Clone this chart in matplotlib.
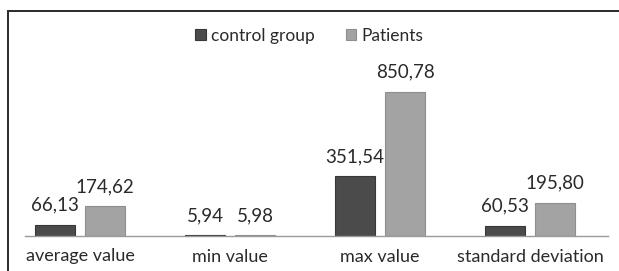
import matplotlib
matplotlib.use("Agg")
import matplotlib.pyplot as plt
from matplotlib.patches import Rectangle
import numpy as np

categories = ["average value", "min value", "max value", "standard deviation"]
control = [66.13, 5.94, 351.54, 60.53]
patients = [174.62, 5.98, 850.78, 195.80]
series_names = ["control group", "Patients"]

plt.rcParams['font.family'] = ['Lato', 'DejaVu Sans']

W, H = 619, 271
fig = plt.figure(figsize=(W / 100, H / 100), dpi=100)

# frame
fig.patches.append(Rectangle((8 / W, -0.1), 1.2, (H - 11) / H + 0.1, transform=fig.transFigure,
                             fill=False, edgecolor="#2a2a2a", linewidth=1.4))

ax_left, ax_right, ax_bottom, ax_top = 25, 608, 35, 260
ax = fig.add_axes([ax_left / W, ax_bottom / H, (ax_right - ax_left) / W, (ax_top - ax_bottom) / H])

x = np.arange(len(categories))
bw = 0.267
off = 0.167
b1 = ax.bar(x - off, control, bw, color="#4b4b4b", edgecolor="#383838", linewidth=0.8,
            label=series_names[0])
b2 = ax.bar(x + off, patients, bw, color="#a3a3a3", edgecolor="#8f8f8f", linewidth=0.8,
            label=series_names[1])

def fmt(v):
    return f"{v:.2f}".replace(".", ",")

for bars, vals in ((b1, control), (b2, patients)):
    for r, v in zip(bars, vals):
        ax.annotate(fmt(v), (r.get_x() + r.get_width() / 2, r.get_height()),
                    xytext=(0, 8), textcoords="offset points", ha="center", va="bottom",
                    fontsize=13.5, color="#2a2a2a")

ax.set_xlim((ax_left - 80) / 150, (ax_right - 80) / 150)
ax.set_ylim(0, (ax_top - ax_bottom) / 0.1693)
ax.set_xticks(x)
ax.set_xticklabels(categories, fontsize=13, color="#2a2a2a")
ax.tick_params(axis="x", length=0, pad=9)
ax.set_yticks([])
for s in ["top", "right", "left"]:
    ax.spines[s].set_visible(False)
ax.spines["bottom"].set_color("#9a9a9a")
ax.spines["bottom"].set_linewidth(1.0)
ax.patch.set_visible(False)

fig.legend(handles=[b1, b2], labels=series_names, loc="upper center",
           bbox_to_anchor=(0.5, (H - 12) / H), ncol=2, frameon=False,
           fontsize=12.5, handlelength=0.6, handleheight=0.6, handletextpad=0.3,
           columnspacing=1.8, labelcolor="#2a2a2a")

fig.savefig("out.png", dpi=100)
